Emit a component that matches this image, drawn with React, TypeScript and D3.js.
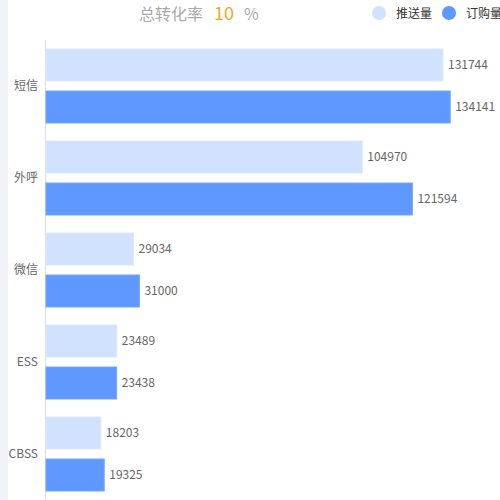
import React from "react";
import * as d3 from "d3";

const categories = ["短信", "外呼", "微信", "ESS", "CBSS"];
const pushValues = [131744, 104970, 29034, 23489, 18203];
const orderValues = [134141, 121594, 31000, 23438, 19325];
const seriesNames = ["推送量", "订购量"];
const rateValue = "10";

const W = 500, H = 500;
const FONT = "'Noto Sans CJK SC', 'Microsoft YaHei', sans-serif";

export default function App() {
  const x = d3.scaleLinear().domain([0, 150000]).range([46, 498]);
  const y = d3.scaleBand().domain(categories).range([40, 500]).paddingInner(0).paddingOuter(0);
  const inner = d3.scaleBand().domain(["p", "o"]).range([0, y.bandwidth()]).paddingInner(0.238).paddingOuter(0.214);
  const colors = ["#d0e2fd", "#5f99ff"];
  const strokes = ["#dde9fd", "#75a7ff"];
  const series = [pushValues, orderValues];
  return (
    <svg width={W} height={H} style={{ position: "fixed", left: 0, top: 0, background: "#fff" }} fontFamily={FONT}>
      <rect x={0} y={0} width={8} height={H} fill="#f2f3f8" />
      <text x={139} y={20} fontSize={16} fill="#aaa">总转化率</text>
      <text x={214} y={20} fontSize={18} fill="#f5a623">{rateValue}</text>
      <text x={244} y={20} fontSize={16} fill="#aaa">%</text>
      {seriesNames.map((n, i) => (
        <g key={n} transform={`translate(${i === 0 ? 379 : 449},13)`}>
          <circle r={7} fill={colors[i]} />
          <text x={17} y={4.5} fontSize={12} fill="#333">{n}</text>
        </g>
      ))}
      <line x1={45.5} x2={45.5} y1={40} y2={500} stroke="#ddd" />
      {categories.map((c, ci) => (
        <g key={c}>
          <text x={38} y={(y(c) as number) + y.bandwidth() / 2 + 4} textAnchor="end" fontSize={12} fill="#666">{c}</text>
          {series.map((vals, si) => {
            const by = (y(c) as number) + (inner(si === 0 ? "p" : "o") as number);
            const bh = inner.bandwidth();
            return (
              <g key={si}>
                <rect x={x(0)} y={by} width={x(vals[ci]) - x(0)} height={bh} fill={colors[si]} stroke={strokes[si]} strokeWidth={1} />
                <text x={x(vals[ci]) + 5} y={by + bh / 2 + 4} fontSize={12} fill="#666">{vals[ci]}</text>
              </g>
            );
          })}
        </g>
      ))}
    </svg>
  );
}
